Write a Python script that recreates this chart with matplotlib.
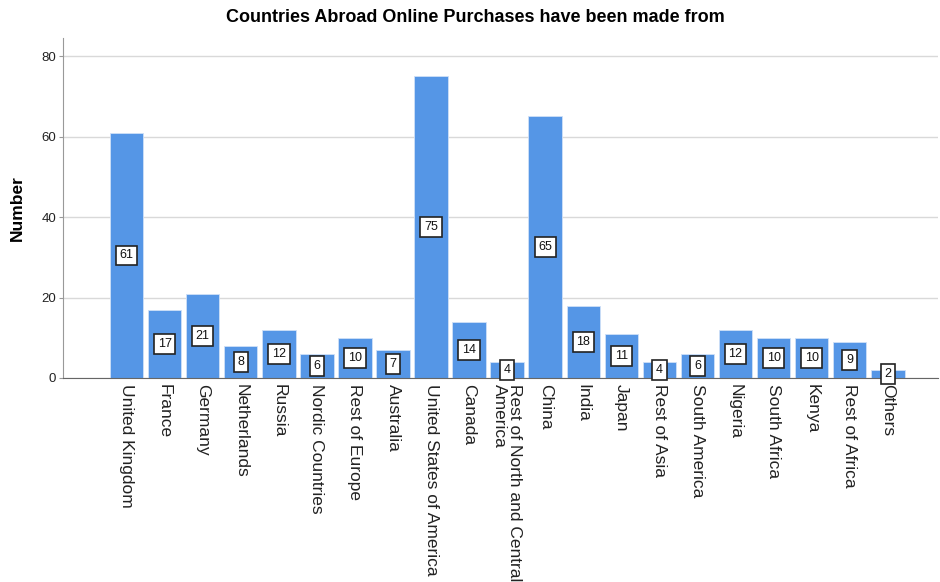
import matplotlib
matplotlib.use("Agg")
import matplotlib.pyplot as plt

BAR_BLUE = "#5596e6"

countries = [
    "United Kingdom", "France", "Germany", "Netherlands", "Russia",
    "Nordic Countries", "Rest of Europe", "Australia", "United States of America",
    "Canada", "Rest of North and Central\nAmerica", "China", "India", "Japan",
    "Rest of Asia", "South America", "Nigeria", "South Africa", "Kenya",
    "Rest of Africa", "Others",
]
counts = [61, 17, 21, 8, 12, 6, 10, 7, 75, 14, 4, 65, 18, 11, 4, 6, 12, 10, 10, 9, 2]

plt.rcParams["font.family"] = ["Liberation Sans", "DejaVu Sans"]

fig = plt.figure(figsize=(9.4, 5.82), dpi=100)
ax = fig.add_axes([63 / 940, 1 - 378 / 582, (938 - 63) / 940, (378 - 38) / 582])

x = list(range(len(countries)))
ax.bar(x, counts, width=0.88, color=BAR_BLUE, edgecolor="#cfe0f7", linewidth=0.6, zorder=2)

# value boxes sit halfway up each bar
for xi, v in zip(x, counts):
    ax.text(xi, v / 2, str(v), ha="center", va="center", fontsize=9, color="#111111", zorder=4,
            bbox=dict(boxstyle="square,pad=0.3", facecolor="white", edgecolor="#222222", linewidth=1.2))

ax.set_xlim(-1.67, 21.32)
ax.set_ylim(0, 84.5)
ax.set_yticks([0, 20, 40, 60, 80])
ax.set_xticks(x)
ax.set_xticklabels(countries, rotation=-90, ha="left", va="center", rotation_mode="anchor",
                   fontsize=12.5, color="#222222", linespacing=0.95)
ax.tick_params(axis="x", length=0, pad=4)
ax.tick_params(axis="y", length=3, color="#999999", labelsize=9.5, labelcolor="#222222", pad=2)

ax.grid(axis="y", color="#d9d9d9", linewidth=1.0, zorder=0)
ax.set_axisbelow(True)
for side in ("top", "right"):
    ax.spines[side].set_visible(False)
ax.spines["left"].set_color("#999999")
ax.spines["bottom"].set_color("#666666")

ax.set_ylabel("Number", fontsize=12.5, fontweight="bold", labelpad=12)
fig.text(475 / 940, 1 - 18 / 582, "Countries Abroad Online Purchases have been made from",
         ha="center", va="center", fontsize=13, fontweight="bold")

fig.savefig("out.png", dpi=100)
